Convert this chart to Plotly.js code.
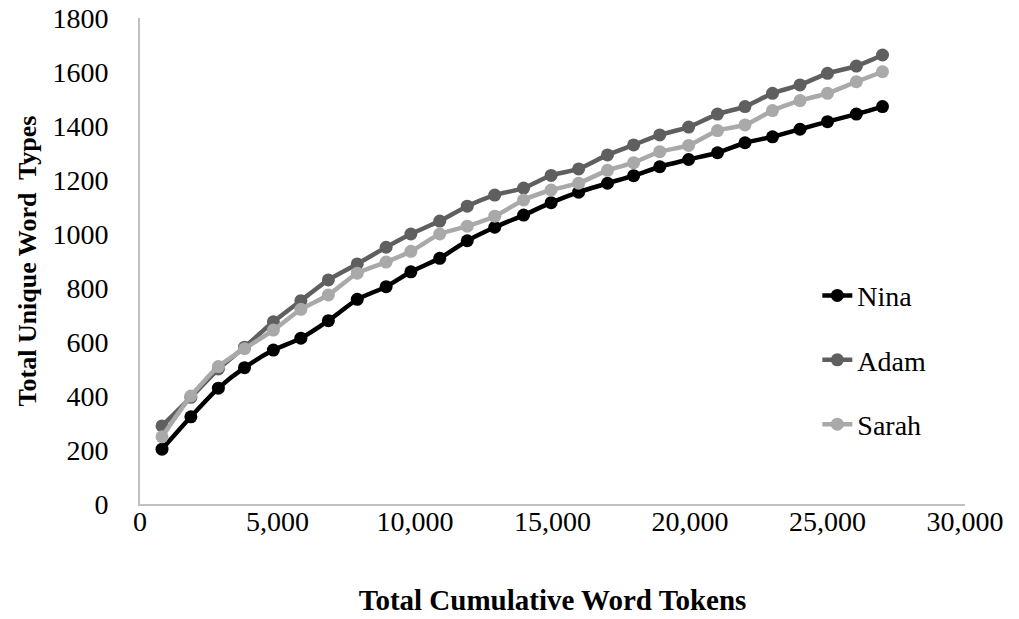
<!DOCTYPE html>
<html>
<head>
<meta charset="utf-8">
<script src="https://cdn.plot.ly/plotly-3.0.1.min.js"></script>
<style>html,body{margin:0;padding:0;background:#fff}#chart{width:1019px;height:619px}</style>
</head>
<body>
<div id="chart"></div>
<script>
// Cumulative word tokens (x)
const tokens = [800, 1850, 2850, 3800, 4850, 5850, 6850, 7900, 8950, 9850, 10900, 11900, 12900, 13950, 14950, 15950, 17000, 17950, 18900, 19950, 21000, 22000, 23000, 24000, 25000, 26050, 27000];
const nina  = [203, 323, 429, 505, 570, 614, 679, 758, 805, 860, 910, 975, 1025, 1070, 1116, 1155, 1188, 1216, 1249, 1276, 1301, 1338, 1360, 1388, 1416, 1444, 1472];
const adam  = [289, 395, 500, 581, 675, 753, 830, 889, 951, 1000, 1048, 1103, 1144, 1170, 1217, 1241, 1293, 1330, 1367, 1396, 1444, 1472, 1521, 1552, 1595, 1622, 1663];
const sarah = [249, 400, 509, 575, 644, 721, 774, 855, 896, 936, 1000, 1029, 1066, 1126, 1163, 1188, 1236, 1264, 1305, 1328, 1383, 1404, 1457, 1494, 1521, 1564, 1601];
const seriesNames = ["Nina", "Adam", "Sarah"];
const xTickVals = [0, 5000, 10000, 15000, 20000, 25000, 30000];
const xTickText = ["0", "5,000", "10,000", "15,000", "20,000", "25,000", "30,000"];
const yTickVals = [0, 200, 400, 600, 800, 1000, 1200, 1400, 1600, 1800];

const colors = ["#000000", "#5f5f5f", "#a9a9a9"];
const data = [nina, adam, sarah];
const FONT = "'Liberation Serif', 'Times New Roman', serif";

const traces = data.map((ys, i) => ({
  type: "scatter",
  mode: "lines+markers",
  name: seriesNames[i],
  legendgroup: seriesNames[i],
  x: tokens,
  y: ys,
  line: {color: colors[i], width: 4.5, shape: "spline", smoothing: 0.6},
  marker: {color: colors[i], size: 13, symbol: "circle"}
}));

const layout = {
  width: 1019, height: 619,
  margin: {l: 140, r: 54, t: 18, b: 115},
  paper_bgcolor: "#ffffff",
  plot_bgcolor: "#ffffff",
  showlegend: true,
  legend: {
    x: 0.821, y: 0.48, xanchor: "left", yanchor: "top",
    traceorder: "grouped", tracegroupgap: 25,
    font: {family: FONT, size: 28, color: "#000"},
    bgcolor: "rgba(0,0,0,0)", itemwidth: 30
  },
  xaxis: {
    range: [0, 30000], tickvals: xTickVals, ticktext: xTickText,
    showgrid: false, zeroline: false, showline: true, linecolor: "#c0c0c0", linewidth: 2,
    ticks: "", ticklabelstandoff: -9,
    tickfont: {family: FONT, size: 28, color: "#000"},
    title: {text: "<b>Total Cumulative Word Tokens</b>", font: {family: FONT, size: 29, color: "#000"}, standoff: 54}
  },
  yaxis: {
    range: [0, 1800], tickvals: yTickVals,
    showgrid: false, zeroline: false, showline: true, linecolor: "#c0c0c0", linewidth: 2,
    ticks: "", ticklabelstandoff: 24,
    tickfont: {family: FONT, size: 28, color: "#000"},
    title: {text: "<b>Total Unique Word  Types</b>", font: {family: FONT, size: 26, color: "#000"}, standoff: 8}
  }
};

Plotly.newPlot("chart", traces, layout, {displayModeBar: false, staticPlot: true});
</script>
</body>
</html>
